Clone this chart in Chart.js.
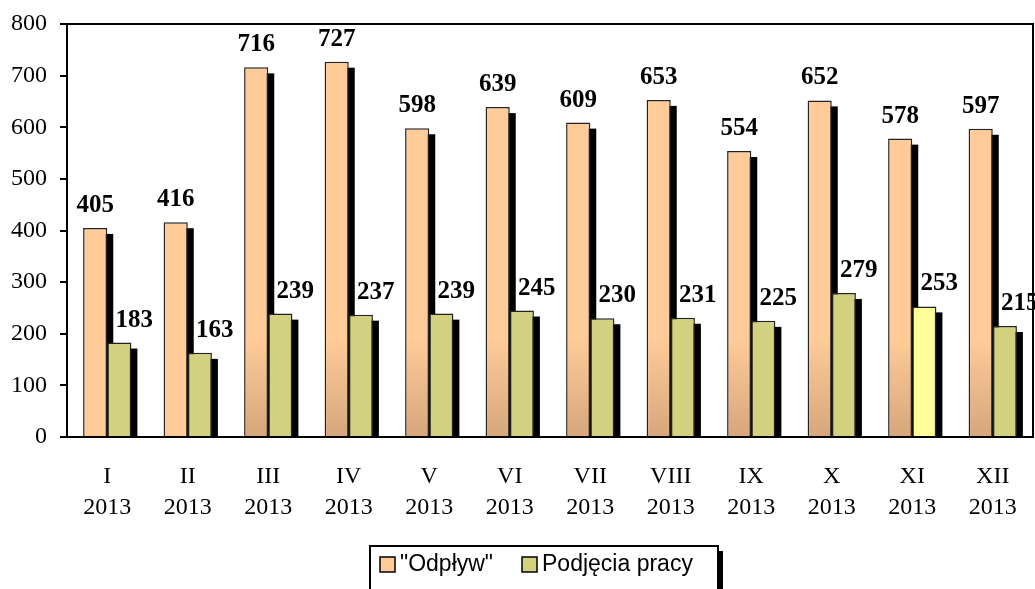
<!DOCTYPE html>
<html>
<head>
<meta charset="utf-8">
<script src="https://cdn.jsdelivr.net/npm/chart.js@4.4.0/dist/chart.umd.min.js"></script>
<style>
  html, body { margin: 0; padding: 0; background: #fff; overflow: hidden; }
  canvas { display: block; }
</style>
</head>
<body>
<canvas id="chart" width="1035" height="589"></canvas>
<script>
// values
const months = ['I', 'II', 'III', 'IV', 'V', 'VI', 'VII', 'VIII', 'IX', 'X', 'XI', 'XII'];
const year = '2013';
const odplyw = [405, 416, 716, 727, 598, 639, 609, 653, 554, 652, 578, 597];
const podjecia = [183, 163, 239, 237, 239, 245, 230, 231, 225, 279, 253, 215];
const seriesNames = ['"Odpływ"', 'Podjęcia pracy'];

const ORANGE = '#FFCC99';
const ORANGE_DARK = '#D6A67C';
const GREEN = '#D1D180';
const YELLOW = '#FFFF99';

function orangeFill(ctx) {
  const area = ctx.chart.chartArea;
  if (!area || ctx.dataIndex < 2) return ORANGE;
  const g = ctx.chart.ctx.createLinearGradient(0, area.bottom, 0, area.bottom - 100);
  g.addColorStop(0, ORANGE_DARK);
  g.addColorStop(1, ORANGE);
  return g;
}

// no automatic overflow padding, the plot box is fixed
function noPad(s) {
  s.paddingTop = 0;
  s.paddingBottom = 0;
  s.paddingLeft = 0;
  s.paddingRight = 0;
}

// black drop shadow behind each bar
const barShadows = {
  id: 'barShadows',
  beforeDatasetsDraw(chart) {
    const c = chart.ctx, a = chart.chartArea;
    c.save();
    c.beginPath();
    c.rect(a.left, a.top, a.right - a.left, a.bottom - a.top);
    c.clip();
    c.fillStyle = '#000';
    chart.data.datasets.forEach((ds, i) => {
      chart.getDatasetMeta(i).data.forEach(bar => {
        const w = bar.width;
        c.fillRect(bar.x - w / 2 + 6, bar.y + 6, w, bar.base - bar.y);
      });
    });
    c.restore();
  }
};

// value labels + top/right frame + legend box
const extras = {
  id: 'extras',
  afterDatasetsDraw(chart) {
    const c = chart.ctx;
    c.save();
    c.fillStyle = '#000';
    c.font = 'bold 25px "Liberation Serif", "Times New Roman", serif';
    c.textAlign = 'center';
    c.textBaseline = 'alphabetic';
    chart.data.datasets.forEach((ds, i) => {
      const shift = i === 0 ? 0 : 15;
      chart.getDatasetMeta(i).data.forEach((bar, j) => {
        c.fillText(String(ds.data[j]), bar.x + shift, bar.y - 16);
      });
    });
    c.restore();
  },
  afterDraw(chart) {
    const c = chart.ctx, a = chart.chartArea;
    c.save();
    c.strokeStyle = '#000';
    c.lineWidth = 2;
    c.beginPath();
    c.moveTo(a.left, a.top);
    c.lineTo(a.right, a.top);
    c.lineTo(a.right, a.bottom);
    c.stroke();

    // legend
    const bx = 370, by = 546, bw = 348, bh = 60;
    c.fillStyle = '#000';
    c.fillRect(bx + 5, by + 5, bw, bh);
    c.fillStyle = '#fff';
    c.fillRect(bx, by, bw, bh);
    c.strokeRect(bx, by, bw, bh);

    c.font = '23px "Liberation Sans", Arial, sans-serif';
    c.textBaseline = 'alphabetic';
    c.textAlign = 'left';
    const fills = [ORANGE, GREEN];
    let x = 380;
    seriesNames.forEach((name, i) => {
      c.fillStyle = fills[i];
      c.fillRect(x, 557, 15, 15);
      c.lineWidth = 1.5;
      c.strokeRect(x, 557, 15, 15);
      c.fillStyle = '#000';
      c.fillText(name, x + 20, 571);
      x += 20 + c.measureText(name).width + 29;
    });
    c.restore();
  }
};

new Chart(document.getElementById('chart'), {
  type: 'bar',
  data: {
    labels: months.map(m => [m, year]),
    datasets: [
      {
        label: seriesNames[0],
        data: odplyw,
        backgroundColor: orangeFill,
        borderColor: '#222',
        borderWidth: 1.5
      },
      {
        label: seriesNames[1],
        data: podjecia,
        backgroundColor: podjecia.map((v, i) => i === 10 ? YELLOW : GREEN),
        borderColor: '#222',
        borderWidth: 1.5
      }
    ]
  },
  options: {
    responsive: false,
    animation: false,
    layout: { autoPadding: false, padding: { top: 24, right: 2, left: 0, bottom: 42 } },
    datasets: { bar: { categoryPercentage: 0.6, barPercentage: 1 } },
    plugins: {
      legend: { display: false },
      tooltip: { enabled: false }
    },
    scales: {
      x: {
        afterFit(s) { s.height = 110; noPad(s); },
        grid: { display: true, drawOnChartArea: false, drawTicks: false },
        border: { display: true, color: '#000', width: 2 },
        ticks: {
          color: '#000',
          padding: 24,
          maxRotation: 0,
          autoSkip: false,
          font: { family: '"Liberation Serif", "Times New Roman", serif', size: 24, lineHeight: 1.3 }
        }
      },
      y: {
        min: 0,
        max: 800,
        afterFit(s) { s.width = 67; noPad(s); },
        grid: { drawOnChartArea: false, tickLength: 7, color: '#000', lineWidth: 2 },
        border: { display: true, color: '#000', width: 2 },
        ticks: {
          stepSize: 100,
          color: '#000',
          padding: 13,
          font: { family: '"Liberation Serif", "Times New Roman", serif', size: 24 }
        }
      }
    }
  },
  plugins: [barShadows, extras]
});
</script>
</body>
</html>
